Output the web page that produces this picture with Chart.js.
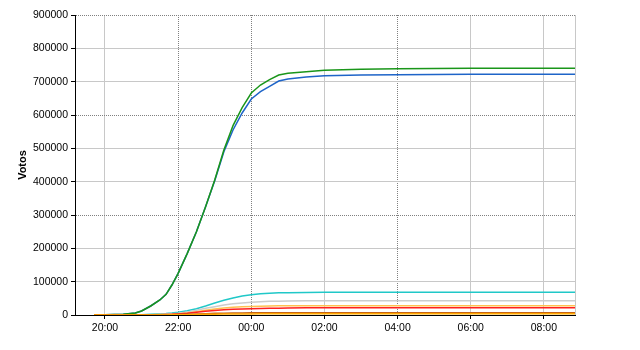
<!DOCTYPE html>
<html><head><meta charset="utf-8">
<script src="https://cdn.jsdelivr.net/npm/chart.js@4/dist/chart.umd.min.js"></script>
<style>html,body{margin:0;padding:0;background:#fff}#wrap{width:640px;height:350px}</style>
</head><body><div id="wrap"><canvas id="c" width="640" height="350"></canvas></div>
<script>
// Hours (values > 24 belong to the next day)
const horas = [19.7, 20.0, 20.5, 20.83, 21.0, 21.25, 21.5, 21.67, 21.83, 22.0, 22.25, 22.5, 22.75, 23.0, 23.25, 23.5, 23.75, 24.0, 24.25, 24.5, 24.75, 25.0, 25.5, 26.0, 27.0, 28.0, 30.0, 32.85];
const serieVerde   = [0,500,2000,6000,12000,27000,45000,62000,90000,125000,185000,250000,325000,405000,495000,568000,622000,666000,690000,706000,720000,725000,730000,734000,737000,739000,740000,740000];
const serieAzul    = [0,500,2000,6000,12000,27000,45000,62000,90000,125000,185000,250000,325000,403000,490000,555000,606000,648000,670000,686000,702000,708000,714000,718000,720000,721000,722000,722000];
const serieCian    = [0,0,0,500,1000,2000,3500,4500,6000,8500,13000,19000,27000,36000,44000,51000,57000,61000,64000,65500,66500,67000,67500,68000,68000,68000,68000,68000];
const serieGris    = [0,0,0,0,500,1000,2000,3000,4000,5500,9000,14000,20000,25000,30000,34000,36000,38000,40000,41000,41500,42000,42500,42500,42500,42500,42500,42500];
const serieNaranjaClaro = [0,0,0,0,200,600,1200,1800,2500,3500,6000,10000,14000,18000,21000,23000,24500,25500,26500,27000,27500,28000,28000,28000,28000,28000,28000,28000];
const serieRoja    = [0,0,0,0,200,500,1000,1500,2000,3000,5000,8000,11000,13500,15500,17000,18000,19000,19500,20000,20500,21000,21500,22000,22000,22000,22000,22000];
const serieNaranja = [0,0,0,0,100,200,400,600,800,1200,2000,3000,4000,5000,5500,6000,6300,6600,6800,7000,7000,7000,7000,7000,7000,7000,7000,7000];
const serieAmarilla= [0,0,0,0,50,100,200,300,400,600,1000,1500,2000,2500,2800,3000,3200,3300,3400,3500,3500,3500,3500,3500,3500,3500,3500,3500];
const xTicks = [20, 22, 24, 26, 28, 30, 32];
const xTickLabels = ['20:00','22:00','00:00','02:00','04:00','06:00','08:00'];
const xMin = 19.18, xMax = 32.85;
const yTicks = [0,100000,200000,300000,400000,500000,600000,700000,800000,900000];
const dottedX = [22, 24, 28];
const dottedY = [300000, 600000, 900000];

function pts(arr){ return horas.map((h,i)=>({x:h,y:arr[i]})); }
function ds(arr,color,w){ return {data:pts(arr),borderColor:color,backgroundColor:color,borderWidth:w||1.5,pointRadius:0,tension:0,fill:false}; }

Chart.defaults.font.family = '"Liberation Sans", Arial, sans-serif';
Chart.defaults.font.size = 10.5;
Chart.defaults.color = '#000';

new Chart(document.getElementById('c'), {
  type: 'line',
  data: { datasets: [
    ds(serieAmarilla,'#ffa800'),
    ds(serieNaranja,'#c86414'),
    ds(serieRoja,'#ff2020'),
    ds(serieNaranjaClaro,'#ffc050'),
    ds(serieGris,'#cccccc'),
    ds(serieCian,'#20c8c8'),
    ds(serieVerde,'#1a961a'),
    ds(serieAzul,'#1e64c8')
  ]},
  options: {
    responsive:false, animation:false,
    layout:{padding:{left:0,right:65,top:15,bottom:0}},
    plugins:{legend:{display:false},tooltip:{enabled:false}},
    scales:{
      x:{type:'linear',min:xMin,max:xMax,
        afterBuildTicks:a=>{a.ticks=xTicks.concat([xMax]).map(v=>({value:v}));},
        afterFit:s=>{s.height=35;},
        ticks:{autoSkip:false,maxRotation:0,padding:3,callback:(v)=>{const i=xTicks.indexOf(v);return i>=0?xTickLabels[i]:'';}},
        grid:{tickLength:4,
          color:c=>c.tick&&dottedX.includes(c.tick.value)?'#808080':'#c8c8c8',
          tickColor:c=>c.tick&&c.tick.value===xMax?'rgba(0,0,0,0)':'#000'},
        border:{color:'#000',width:1,dash:c=>c.tick&&dottedX.includes(c.tick.value)?[1,1]:[]}
      },
      y:{min:0,max:900000,
        afterBuildTicks:a=>{a.ticks=yTicks.map(v=>({value:v}));},
        afterFit:s=>{s.width=75;},
        ticks:{padding:3,callback:v=>String(v)},
        title:{display:true,text:'Votos',font:{weight:'bold',size:11},padding:{top:16,bottom:0}},
        grid:{tickLength:4,
          color:c=>c.tick&&dottedY.includes(c.tick.value)?'#808080':'#c8c8c8',
          tickColor:'#000'},
        border:{color:'#000',width:1,dash:c=>c.tick&&dottedY.includes(c.tick.value)?[1,1]:[]}
      }
    }
  }
});
</script></body></html>
